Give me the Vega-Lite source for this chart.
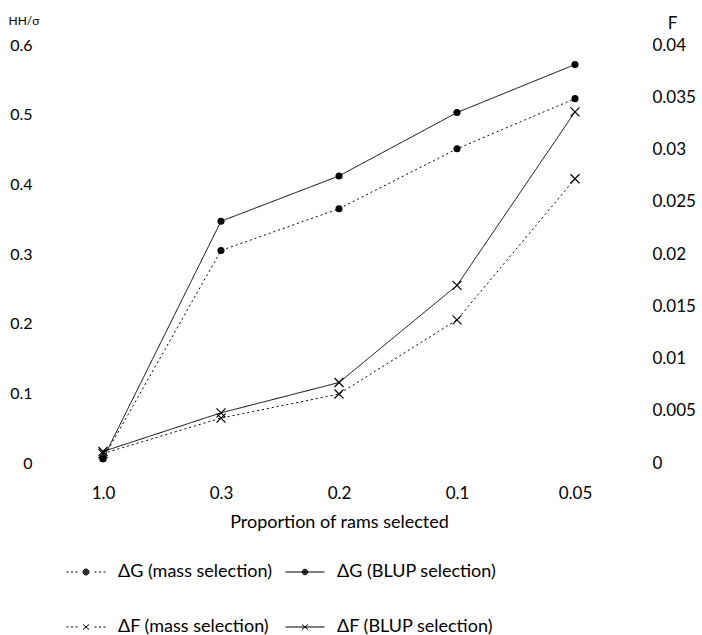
{
  "$schema": "https://vega.github.io/schema/vega-lite/v6.json",
  "width": 590,
  "height": 418,
  "autosize": {"type": "none"},
  "padding": {"left": 44, "top": 45, "right": 68, "bottom": 172},
  "background": "white",
  "config": {
    "view": {"stroke": null},
    "font": "Lato",
    "axis": {"grid": false, "domain": false, "ticks": false, "tickSize": 0, "labelColor": "black", "titleColor": "black", "labelFont": "Lato", "titleFont": "Lato", "titleFontWeight": "normal"}
  },
  "data": {
    "values": [
      {"p": "1.0", "m": "mass", "G": 0.006, "F": 0.0009},
      {"p": "0.3", "m": "mass", "G": 0.305, "F": 0.0043},
      {"p": "0.2", "m": "mass", "G": 0.365, "F": 0.0066},
      {"p": "0.1", "m": "mass", "G": 0.451, "F": 0.0137},
      {"p": "0.05", "m": "mass", "G": 0.523, "F": 0.0272},
      {"p": "1.0", "m": "BLUP", "G": 0.006, "F": 0.0011},
      {"p": "0.3", "m": "BLUP", "G": 0.347, "F": 0.0048},
      {"p": "0.2", "m": "BLUP", "G": 0.412, "F": 0.0077},
      {"p": "0.1", "m": "BLUP", "G": 0.503, "F": 0.0170},
      {"p": "0.05", "m": "BLUP", "G": 0.572, "F": 0.0336}
    ]
  },
  "encoding": {
    "x": {
      "field": "p", "type": "ordinal",
      "sort": ["1.0", "0.3", "0.2", "0.1", "0.05"],
      "scale": {"padding": 0.5},
      "title": "Proportion of rams selected",
      "axis": {"labelAngle": 0, "labelFontSize": 17, "labelPadding": 22, "titleFontSize": 18, "titlePadding": 12}
    }
  },
  "layer": [
    {
      "encoding": {
        "y": {
          "field": "G", "type": "quantitative",
          "scale": {"domain": [0, 0.6], "nice": false, "zero": true},
          "axis": {"orient": "left", "values": [0, 0.1, 0.2, 0.3, 0.4, 0.5, 0.6], "format": "~g", "labelFontSize": 16, "labelPadding": 12, "title": "HH/σ", "titleAngle": 0, "titleFontSize": 12, "titleX": -36, "titleY": -25, "titleAlign": "left", "titleBaseline": "middle"}
        }
      },
      "layer": [
        {
          "mark": {"type": "line", "color": "black", "strokeWidth": 1},
          "encoding": {
            "detail": {"field": "m"},
            "strokeDash": {"field": "m", "type": "nominal", "scale": {"domain": ["mass", "BLUP"], "range": [[2, 3], [1, 0]]}, "legend": null}
          }
        },
        {
          "mark": {"type": "point", "shape": "circle", "filled": true, "size": 50, "color": "black", "opacity": 1}
        }
      ]
    },
    {
      "encoding": {
        "y": {
          "field": "F", "type": "quantitative",
          "scale": {"domain": [0, 0.04], "nice": false, "zero": true},
          "axis": {"orient": "right", "values": [0, 0.005, 0.01, 0.015, 0.02, 0.025, 0.03, 0.035, 0.04], "format": "~g", "labelFontSize": 17, "labelPadding": 18, "labelAlign": "left", "title": "F", "titleAngle": 0, "titleFontSize": 17, "titleX": 38, "titleY": -22, "titleAlign": "center", "titleBaseline": "middle"}
        }
      },
      "layer": [
        {
          "mark": {"type": "line", "color": "black", "strokeWidth": 1},
          "encoding": {
            "detail": {"field": "m"},
            "strokeDash": {"field": "m", "type": "nominal", "scale": {"domain": ["mass", "BLUP"], "range": [[2, 3], [1, 0]]}, "legend": null}
          }
        },
        {
          "mark": {"type": "point", "shape": "M-1,-1L1,1M1,-1L-1,1", "filled": false, "size": 81, "color": "black", "strokeWidth": 1.2, "opacity": 1}
        },
        {
          "transform": [{"filter": "datum.m == 'none'"}],
          "mark": {"type": "point", "filled": false, "color": "black", "opacity": 1, "strokeWidth": 1},
          "encoding": {
            "shape": {
              "field": "series", "type": "nominal",
              "scale": {
                "domain": ["ΔG (mass selection)", "ΔG (BLUP selection)", "ΔF (mass selection)", "ΔF (BLUP selection)"],
                "range": [
                  "M-3.9,0H-3.5M-3,0H-2.6M-2.1,0H-1.7M1.7,0H2.1M2.6,0H3M3.5,0H3.9M-0.6,0A0.6,0.6 0 1,0 0.6,0A0.6,0.6 0 1,0 -0.6,0M-0.45,0A0.45,0.45 0 1,0 0.45,0A0.45,0.45 0 1,0 -0.45,0M-0.3,0A0.3,0.3 0 1,0 0.3,0A0.3,0.3 0 1,0 -0.3,0M-0.15,0A0.15,0.15 0 1,0 0.15,0A0.15,0.15 0 1,0 -0.15,0",
                  "M-3.9,0H3.9M-0.55,0A0.55,0.55 0 1,0 0.55,0A0.55,0.55 0 1,0 -0.55,0M-0.4,0A0.4,0.4 0 1,0 0.4,0A0.4,0.4 0 1,0 -0.4,0M-0.25,0A0.25,0.25 0 1,0 0.25,0A0.25,0.25 0 1,0 -0.25,0M-0.1,0A0.1,0.1 0 1,0 0.1,0A0.1,0.1 0 1,0 -0.1,0",
                  "M-3.9,0H-3.5M-3,0H-2.6M-2.1,0H-1.7M1.7,0H2.1M2.6,0H3M3.5,0H3.9M-0.6,-0.5L0.6,0.5M0.6,-0.5L-0.6,0.5",
                  "M-3.9,0H3.9M-0.6,-0.5L0.6,0.5M0.6,-0.5L-0.6,0.5"
                ]
              },
              "legend": {
                "orient": "none", "legendX": 18, "legendY": 518,
                "direction": "horizontal",
                "columns": 2, "title": null,
                "symbolSize": 100, "symbolOpacity": 1,
                "symbolStrokeColor": "black", "symbolStrokeWidth": 1,
                "symbolOffset": 15, "labelOffset": 23,
                "labelFont": "Lato", "labelFontSize": 18, "labelColor": "black", "labelLimit": 300,
                "rowPadding": 37, "columnPadding": 8
              }
            }
          }
        }
      ]
    }
  ],
  "resolve": {"scale": {"y": "independent"}}
}
